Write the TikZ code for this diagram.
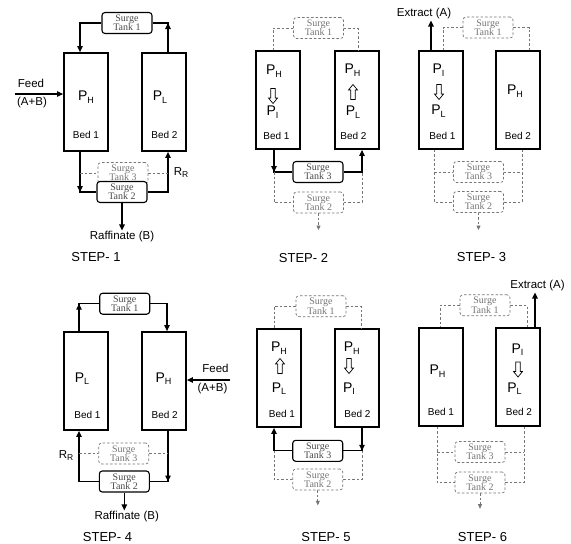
\documentclass[tikz,border=0pt]{standalone}
\usepackage{fontspec}
\setmainfont{Liberation Sans}
\newfontfamily\tankfont{Liberation Serif}
\usetikzlibrary{arrows.meta}
\definecolor{idle}{HTML}{767676}
\definecolor{tanktext}{HTML}{4A4A4A}
\newcommand{\plab}[1]{P\raisebox{-2.8pt}{\fontsize{9}{9}\selectfont #1}}

\tikzset{
  bed/.style={draw, line width=1.8pt, minimum width=44pt, minimum height=98pt, inner sep=0pt},
  tank/.style={draw, fill=white, line width=1.1pt, rounded corners=3pt, minimum width=50pt,
    minimum height=21pt, inner sep=0pt, align=center, text=tanktext,
    font=\tankfont\fontsize{10}{9.2}\selectfont},
  idletank/.style={tank, draw=idle, line width=0.7pt, dash pattern=on 2.5pt off 2pt, text=idle},
  pipe/.style={line width=1.2pt},
  flow/.style={pipe, -{Triangle[length=6pt,width=5.5pt]}},
  idlepipe/.style={draw=idle, line width=0.7pt, dash pattern=on 2.5pt off 2pt},
  idleflow/.style={idlepipe, -{Triangle[length=4.5pt,width=4pt]}},
  hollowdown/.pic={\draw[line width=0.7pt] (-2.2,-7.5) -- (-2.2,2) -- (-4.5,2) -- (0,7.5)
    -- (4.5,2) -- (2.2,2) -- (2.2,-7.5) -- cycle;},
  hollowup/.pic={\draw[line width=0.7pt] (-2.2,7.5) -- (-2.2,-2) -- (-4.5,-2) -- (0,-7.5)
    -- (4.5,-2) -- (2.2,-2) -- (2.2,7.5) -- cycle;},
  plabel/.style={font=\fontsize{14}{16}\selectfont, inner sep=0pt},
  bedlabel/.style={font=\fontsize{10}{12}\selectfont, inner sep=0pt},
  stream/.style={font=\fontsize{11.5}{13}\selectfont, inner sep=1pt},
  steplabel/.style={font=\fontsize{13}{15}\selectfont, inner sep=0pt}
}

\begin{document}
\begin{tikzpicture}[x=1pt, y=-1pt]
  \path[use as bounding box, fill=white] (0,0) rectangle (571,544);

  % step 1
  \node[bed] (b11) at (86,102) {};
  \node[bed] (b12) at (164,102) {};
  \node[plabel] (p11) at (86,97) {\plab{H}};
  \node[bedlabel] (l11) at (86,135) {Bed 1};
  \node[plabel] (p12) at (160,97) {\plab{L}};
  \node[bedlabel] (l12) at (164.5,135) {Bed 2};
  \node[tank] (t11) at (127,23) {Surge\\Tank 1};
  \node[idletank] (t13) at (123,173) {Surge\\Tank 3};
  \node[tank] (t12) at (122,192) {Surge\\Tank 2};
  \coordinate (a11) at ([xshift=-6pt]b11.north);
  \coordinate (a12) at ([xshift=4pt]b12.north);
  \coordinate (z11) at ([xshift=-6pt]b11.south);
  \coordinate (z12) at ([xshift=4pt]b12.south);
  \draw[flow] (t11.west) -| (a11);
  \draw[pipe] (t11.east) -| (a12);
  \draw[flow] (a12) -- (a12 |- t11.east);
  \coordinate (f1) at (15,94);
  \draw[flow] (f1) -- (f1 -| b11.west);
  \node[stream] (feed1) at (31,83) {Feed};
  \node[stream] (ab1) at (32,103) {(A+B)};
  \draw[pipe] (z11) |- (t12.west);
  \draw[flow] (z11) -- (z11 |- t12.west);
  \draw[flow] (t12.east) -| (z12);
  \draw[idlepipe] (z11 |- t13.west) -- (t13.west);
  \draw[idlepipe] (t13.east) -- (z12 |- t13.east);
  \node[stream] (rr1) at (181,173) {R\raisebox{-2pt}{\fontsize{8.5}{9}\selectfont R}};
  \node[stream] (raf1) at (122,237) {Raffinate (B)};
  \draw[flow] (t12.south) -- (raf1.north);
  \node[steplabel] (s1) at (96,257) {STEP- 1};

  % step 2
  \node[bed] (b21) at (278,100) {};
  \node[bed] (b22) at (357,100) {};
  \node[plabel] (p21) at (274,71.5) {\plab{H}};
  \pic at (273,96) {hollowdown};
  \node[plabel] (q21) at (272.5,112.5) {\plab{I}};
  \node[bedlabel] (l21) at (276.5,136) {Bed 1};
  \node[plabel] (p22) at (352.5,70) {\plab{H}};
  \pic at (353,92) {hollowup};
  \node[plabel] (q22) at (353,112.5) {\plab{L}};
  \node[bedlabel] (l22) at (353.5,136) {Bed 2};
  \node[idletank] (t21) at (318.5,28) {Surge\\Tank 1};
  \node[tank] (t23) at (318,172) {Surge\\Tank 3};
  \node[idletank] (t22) at (318.5,202.5) {Surge\\Tank 2};
  \coordinate (a21) at ([xshift=-5pt]b21.north);
  \coordinate (a22) at ([xshift=1pt]b22.north);
  \coordinate (z21) at ([xshift=-4pt]b21.south);
  \coordinate (z22) at ([xshift=5pt]b22.south);
  \draw[idlepipe] (t21.west) -| (a21);
  \draw[idlepipe] (t21.east) -| (a22);
  \draw[pipe] (z21) |- (t23.west);
  \draw[flow] (z21) -- (z21 |- t23.west);
  \draw[flow] (t23.east) -| (z22);
  \draw[idlepipe] (z21 |- t23.west) |- (t22.west);
  \draw[idlepipe] (t22.east) -| (z22 |- t23.east);
  \coordinate (e2) at (318.5,230);
  \draw[idleflow] (t22.south) -- (e2);
  \node[steplabel] (s2) at (303.5,258) {STEP- 2};

  % step 3
  \node[bed] (b31) at (441,100) {};
  \node[bed] (b32) at (518,100) {};
  \node[plabel] (p31) at (438.5,70.5) {\plab{I}};
  \pic at (439,92) {hollowdown};
  \node[plabel] (q31) at (438.5,111.5) {\plab{L}};
  \node[bedlabel] (l31) at (442.5,136) {Bed 1};
  \node[plabel] (p32) at (515,91.5) {\plab{H}};
  \node[bedlabel] (l32) at (518,136) {Bed 2};
  \node[stream] (ex3) at (424,14) {Extract (A)};
  \coordinate (x3) at ([xshift=-10pt]b31.north);
  \draw[flow] (x3) -- (x3 |- ex3.south);
  \node[idletank] (t31) at (488,27.5) {Surge\\Tank 1};
  \node[idletank] (t33) at (478.5,172) {Surge\\Tank 3};
  \node[idletank] (t32) at (478.5,202) {Surge\\Tank 2};
  \coordinate (a31) at ([xshift=2pt]b31.north);
  \coordinate (a32) at ([xshift=11pt]b32.north);
  \coordinate (z31) at ([xshift=-7pt]b31.south);
  \coordinate (z32) at ([xshift=4pt]b32.south);
  \draw[idlepipe] (t31.west) -| (a31);
  \draw[idlepipe] (t31.east) -| (a32);
  \draw[idlepipe] (z31) |- (t32.west);
  \draw[idlepipe] (z32) |- (t32.east);
  \draw[idlepipe] (z31 |- t33.west) -- (t33.west);
  \draw[idlepipe] (t33.east) -- (z32 |- t33.east);
  \coordinate (e3) at (478.5,230);
  \draw[idleflow] (t32.south) -- (e3);
  \node[steplabel] (s3) at (481.5,257) {STEP- 3};

  % step 4
  \node[bed] (b41) at (86,381) {};
  \node[bed] (b42) at (164,381) {};
  \node[plabel] (p41) at (82,378.7) {\plab{L}};
  \node[bedlabel] (l41) at (87.5,415) {Bed 1};
  \node[plabel] (p42) at (163.5,378.7) {\plab{H}};
  \node[bedlabel] (l42) at (164.7,415) {Bed 2};
  \node[tank] (t41) at (124.7,303.7) {Surge\\Tank 1};
  \node[idletank] (t43) at (123.7,453.5) {Surge\\Tank 3};
  \node[tank] (t42) at (124.3,481.5) {Surge\\Tank 2};
  \coordinate (a41) at ([xshift=-7pt]b41.north);
  \coordinate (a42) at ([xshift=3pt]b42.north);
  \coordinate (z41) at ([xshift=-7pt]b41.south);
  \coordinate (z42) at ([xshift=4pt]b42.south);
  \draw[pipe] (a41) |- (t41.west);
  \draw[flow] (a41) -- (a41 |- t41.west);
  \draw[flow] (t41.east) -| (a42);
  \draw[pipe] (z42) |- (t42.east);
  \draw[flow] (z42) -- (z42 |- t42.east);
  \draw[flow] (t42.west) -| (z41);
  \draw[idlepipe] (z41 |- t43.west) -- (t43.west);
  \draw[idlepipe] (t43.east) -- (z42 |- t43.east);
  \node[stream] (rr4) at (66,456) {R\raisebox{-2pt}{\fontsize{8.5}{9}\selectfont R}};
  \node[stream] (raf4) at (126.7,517) {Raffinate (B)};
  \draw[flow] (t42.south) -- (t42.south |- raf4.north);
  \coordinate (f4) at (230,380);
  \draw[flow] (f4) -- (f4 -| b42.east);
  \node[stream] (feed4) at (215.5,368.5) {Feed};
  \node[stream] (ab4) at (212.5,389) {(A+B)};
  \node[steplabel] (s4) at (107.5,537) {STEP- 4};

  % step 5
  \node[bed] (b51) at (279,378) {};
  \node[bed] (b52) at (357,378) {};
  \node[plabel] (p51) at (279,348.3) {\plab{H}};
  \pic at (280,366) {hollowup};
  \node[plabel] (q51) at (279,388.7) {\plab{L}};
  \node[bedlabel] (l51) at (282,413.5) {Bed 1};
  \node[plabel] (p52) at (351.7,348.3) {\plab{H}};
  \pic at (349,366) {hollowdown};
  \node[plabel] (q52) at (349,388.7) {\plab{I}};
  \node[bedlabel] (l52) at (357.5,413.5) {Bed 2};
  \node[idletank] (t51) at (321,306.2) {Surge\\Tank 1};
  \node[tank] (t53) at (317.7,450.8) {Surge\\Tank 3};
  \node[idletank] (t52) at (317.8,479.5) {Surge\\Tank 2};
  \coordinate (a51) at ([xshift=-5pt]b51.north);
  \coordinate (a52) at ([xshift=4pt]b52.north);
  \coordinate (z51) at ([xshift=-5pt]b51.south);
  \coordinate (z52) at ([xshift=5pt]b52.south);
  \draw[idlepipe] (t51.west) -| (a51);
  \draw[idlepipe] (t51.east) -| (a52);
  \draw[pipe] (z52) |- (t53.east);
  \draw[flow] (z52) -- (z52 |- t53.east);
  \draw[flow] (t53.west) -| (z51);
  \draw[idlepipe] (z51 |- t53.west) |- (t52.west);
  \draw[idlepipe] (t52.east) -| (z52 |- t53.east);
  \coordinate (e5) at (317.8,505.3);
  \draw[idleflow] (t52.south) -- (e5);
  \node[steplabel] (s5) at (326,537) {STEP- 5};

  % step 6
  \node[bed] (b61) at (441,377) {};
  \node[bed] (b62) at (518,377) {};
  \node[plabel] (p61) at (437.5,371) {\plab{H}};
  \node[bedlabel] (l61) at (441,411.7) {Bed 1};
  \node[plabel] (p62) at (517.5,349.7) {\plab{I}};
  \pic at (518,369.5) {hollowdown};
  \node[plabel] (q62) at (514.5,388.7) {\plab{L}};
  \node[bedlabel] (l62) at (519,411.7) {Bed 2};
  \node[stream] (ex6) at (537.5,286) {Extract (A)};
  \coordinate (x6) at ([xshift=17pt]b62.north);
  \draw[flow] (x6) -- (x6 |- ex6.south);
  \node[idletank] (t61) at (485,305.3) {Surge\\Tank 1};
  \node[idletank] (t63) at (480,452) {Surge\\Tank 3};
  \node[idletank] (t62) at (480,482.5) {Surge\\Tank 2};
  \coordinate (a61) at ([xshift=-1pt]b61.north);
  \coordinate (a62) at ([xshift=9pt]b62.north);
  \coordinate (z61) at ([xshift=-4pt]b61.south);
  \coordinate (z62) at ([xshift=6pt]b62.south);
  \draw[idlepipe] (t61.west) -| (a61);
  \draw[idlepipe] (t61.east) -| (a62);
  \draw[idlepipe] (z61) |- (t62.west);
  \draw[idlepipe] (z62) |- (t62.east);
  \draw[idlepipe] (z61 |- t63.west) -- (t63.west);
  \draw[idlepipe] (t63.east) -- (z62 |- t63.east);
  \coordinate (e6) at (480,508.7);
  \draw[idleflow] (t62.south) -- (e6);
  \node[steplabel] (s6) at (482.5,537) {STEP- 6};
\end{tikzpicture}
\end{document}
